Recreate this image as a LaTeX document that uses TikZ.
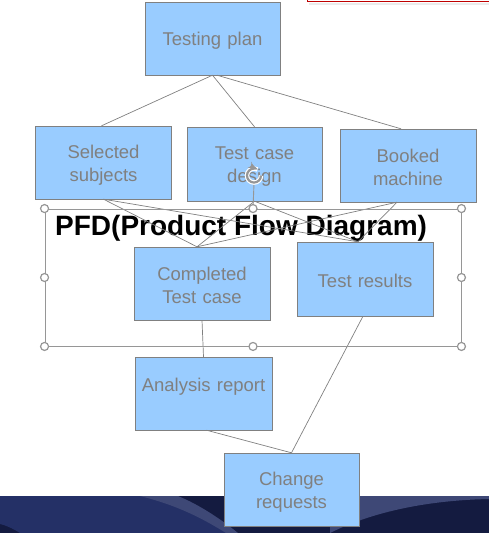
\documentclass[tikz,border=0pt]{standalone}
\usepackage{fontspec}
\setmainfont{Liberation Sans}
\usepackage{xcolor}
\usetikzlibrary{shapes,arrows,calc,positioning}
\definecolor{boxblue}{RGB}{153,204,255}
\definecolor{boxgray}{RGB}{128,128,128}
\definecolor{handlegray}{RGB}{150,150,150}
\definecolor{navydark}{RGB}{20,27,64}
\definecolor{navymid}{RGB}{36,48,102}
\definecolor{navylight}{RGB}{62,72,118}
\tikzstyle{block} = [rectangle, draw=boxgray, fill=boxblue, text=boxgray, text width=130pt, align=center, minimum width=135pt, minimum height=73pt, inner sep=0pt, font=\fontsize{18.5}{23}\selectfont, execute at begin node={\rule{0pt}{18pt}}]
\tikzstyle{line} = [draw, boxgray, line width=0.7pt]
\tikzstyle{frame} = [rectangle, draw=handlegray, line width=0.9pt, inner sep=0pt]
\tikzstyle{handle} = [circle, draw=handlegray, fill=white, line width=1.2pt, minimum size=8pt, inner sep=0pt]

\begin{document}
\begin{tikzpicture}[x=1pt, y=-1pt, node distance=0pt]
\useasboundingbox (0,0) rectangle (489,533);

% slide background at the bottom
\fill[navydark] (0,496) rectangle (489,533);
\fill[navymid] (0,496) -- (150,496) .. controls (185,508) and (215,522) .. (235,533) -- (20,533) .. controls (12,528) and (5,525) .. (0,524) -- cycle;
\fill[navylight] (140,496) -- (178,496) .. controls (200,505) and (222,520) .. (238,533) -- (226,533) .. controls (205,520) and (180,506) .. cycle;
\fill[navylight] (330,533) .. controls (380,508) and (440,500) .. (489,499) -- (489,496) -- (330,496) -- cycle;
\fill[navydark] (360,533) .. controls (400,515) and (450,507) .. (489,506) -- (489,533) -- cycle;

% red box at the top right
\fill[black!8] (309,2.5) rectangle (489,5);
\draw[red!75!black, line width=1pt] (307,0) -- (307,1.5) -- (489,1.5);

\node [block] (plan) at (212.5,38.5) {Testing plan};
\node [block, minimum width=136pt] (subjects) at (103.5,162.5) {Selected\\subjects};
\node [block, minimum height=74pt] (design) at (254.5,164) {Test case\\design};
\node [block, minimum width=136pt] (machine) at (408,165.5) {Booked\\machine};
\node [block, minimum width=136pt] (completed) at (202,283.5) {Completed\\Test case};
\node [block, minimum width=136pt, minimum height=74pt] (results) at (365,279) {Test results};
\node [block, minimum width=137pt] (analysis) at (203.5,393.5) {Analysis report\\~};
\node [block] (change) at (291.5,489.5) {Change\\requests};

\node [anchor=base west, inner sep=0pt, font=\fontsize{28}{34}\selectfont\bfseries] (title) at (55,235) {PFD(Product Flow Diagram)};

\path [line] (plan.south) -- ($(subjects.north) + (-2,0)$);
\path [line] (plan.south) -- (design.north);
\path [line] ($(plan.south) + (4.5,0)$) -- ($(machine.north) + (-7,0)$);
\path [line] (subjects.south) -- ($(completed.north) + (-5,0)$);
\path [line] (subjects.south) -- ($(results.north) + (-7,0)$);
\path [line] (design.south) -- ($(completed.north) + (-5,0)$);
\path [line] (design.south) -- ($(results.north) + (-7,0)$);
\path [line] ($(machine.south) + (-11,0)$) -- ($(completed.north) + (-5,0)$);
\path [line] ($(machine.south) + (-11,0)$) -- ($(results.north) + (-7,0)$);
\path [line] (completed.south) -- (analysis.north);
\path [line] ($(analysis.south) + (3,0)$) -- (change.north);
\path [line] ($(results.south) + (-2,0)$) -- (change.north);

% selection of the title box
\node [frame, minimum width=416pt, minimum height=137pt] (tbox) at (253,277.5) {};
\coordinate (rot) at ($(tbox.north) + (1,-33)$);
\draw [handlegray, line width=0.9pt] (tbox.north) -- ($(rot) + (0,8)$);
\draw [white, line width=4.5pt] ($(rot) + (7,0)$) arc [start angle=0, end angle=300, radius=7];
\draw [handlegray, line width=2.2pt, -latex'] ($(rot) + (7,0)$) arc [start angle=0, end angle=300, radius=7];
\foreach \a in {north west, north, north east, west, east, south west, south, south east}
  \node [handle] at (tbox.\a) {};

\end{tikzpicture}
\end{document}
